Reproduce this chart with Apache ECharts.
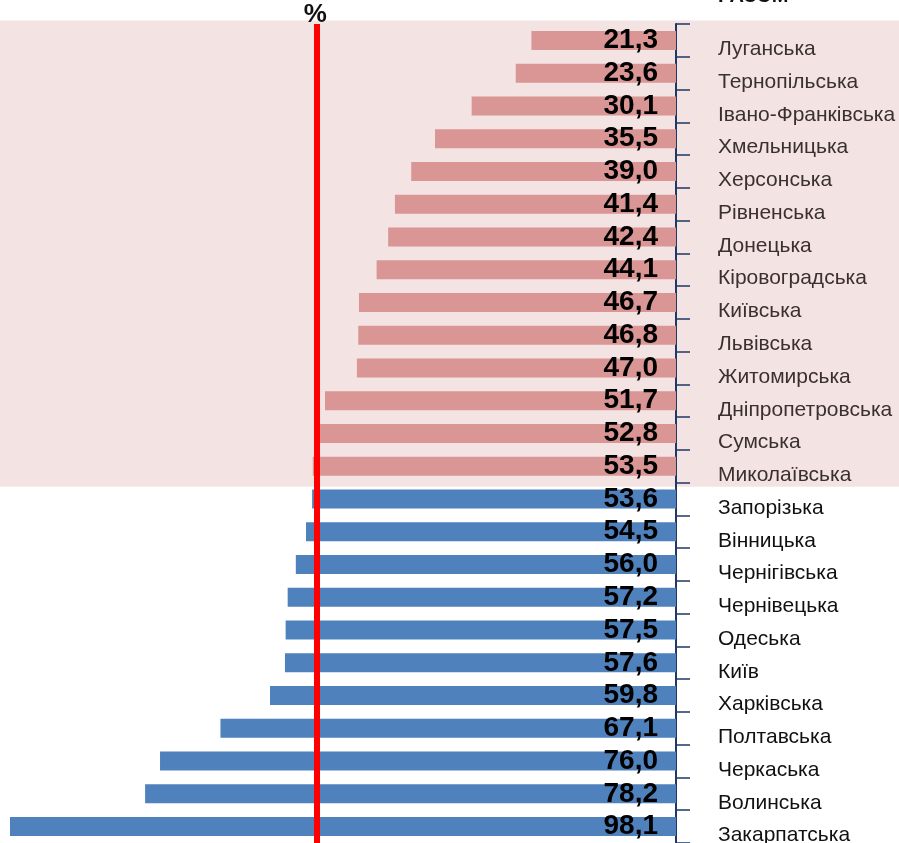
<!DOCTYPE html>
<html>
<head>
<meta charset="utf-8">
<script src="https://cdn.jsdelivr.net/npm/echarts@6/dist/echarts.min.js"></script>
<style>
  html, body { margin: 0; padding: 0; background: #fff; }
  #chart { width: 899px; height: 843px; }
</style>
</head>
<body>
<div id="chart"></div>
<script>
const regions = ['Луганська', 'Тернопільська', 'Івано-Франківська', 'Хмельницька', 'Херсонська',
  'Рівненська', 'Донецька', 'Кіровоградська', 'Київська', 'Львівська', 'Житомирська',
  'Дніпропетровська', 'Сумська', 'Миколаївська', 'Запорізька', 'Вінницька', 'Чернігівська',
  'Чернівецька', 'Одеська', 'Київ', 'Харківська', 'Полтавська', 'Черкаська', 'Волинська', 'Закарпатська']
const values = [21.3, 23.6, 30.1, 35.5, 39.0, 41.4, 42.4, 44.1, 46.7, 46.8, 47.0, 51.7, 52.8, 53.5,
  53.6, 54.5, 56.0, 57.2, 57.5, 57.6, 59.8, 67.1, 76.0, 78.2, 98.1]
const total = 52.9
const lowCount = 14 // перші 14 областей виділені рожевим

const pink = '#d99694'
const blue = '#4f81bd'
const axisColor = '#1f3864'

const chart = echarts.init(document.getElementById('chart'))

const option = {
  animation: false,
  grid: { left: 10, right: 223, top: 24, bottom: 0, outerBoundsMode: 'none' },
  xAxis: {
    type: 'value',
    inverse: true,
    min: 0,
    max: 98.1,
    show: false
  },
  yAxis: {
    type: 'category',
    inverse: true,
    position: 'right',
    data: regions,
    axisLine: { lineStyle: { color: axisColor, width: 2 } },
    axisTick: { show: true, length: 14, lineStyle: { color: axisColor, width: 1.5 } },
    axisLabel: {
      margin: 42,
      fontFamily: 'Liberation Sans',
      fontSize: 21,
      verticalAlign: 'top',
      lineHeight: 18,
      color: (v, i) => i < lowCount ? '#3a3030' : '#111'
    }
  },
  series: [{
    type: 'bar',
    barWidth: 19,
    data: values,
    itemStyle: {
      color: p => p.dataIndex < lowCount ? pink : blue
    },
    label: {
      show: true,
      position: 'insideRight',
      distance: 18,
      fontFamily: 'Liberation Sans',
      fontWeight: 'bold',
      fontSize: 28,
      color: '#000',
      formatter: p => p.value.toFixed(1).replace('.', ',')
    },
    markLine: {
      silent: true,
      symbol: 'none',
      label: { show: false },
      lineStyle: { color: '#ff0000', width: 6, type: 'solid' },
      data: [{ xAxis: total }]
    }
  }]
}
chart.setOption(option)

// рожевий фон для першої групи та підписи зверху
const yTop = chart.convertToPixel({ yAxisIndex: 0 }, regions[0])
const yLast = chart.convertToPixel({ yAxisIndex: 0 }, regions[lowCount - 1])
const yNext = chart.convertToPixel({ yAxisIndex: 0 }, regions[lowCount])
const xTotal = chart.convertToPixel({ xAxisIndex: 0 }, total)
chart.setOption({
  graphic: [
    {
      type: 'rect', z: -10, silent: true,
      shape: { x: 0, y: yTop - 20, width: 899, height: (yLast + yNext) / 2 + 4 - (yTop - 20) },
      style: { fill: '#f3e3e3' }
    },
    {
      type: 'text', left: xTotal - 13, top: 2,
      style: { text: '%', font: 'bold 26px Liberation Sans', fill: '#111' }
    },
    {
      type: 'text', left: 718, top: -14,
      style: { text: 'РАЗОМ', font: 'bold 20px Liberation Sans', fill: '#111' }
    }
  ]
})
</script>
</body>
</html>
